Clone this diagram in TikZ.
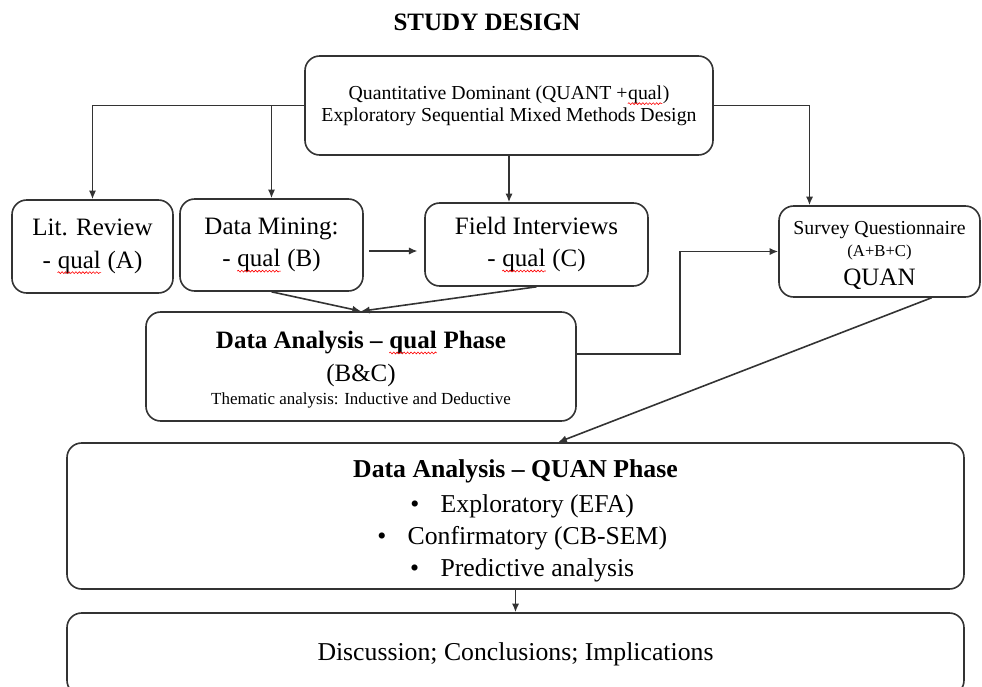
\documentclass[tikz,border=0pt]{standalone}
\usepackage{fontspec}
\setmainfont{Liberation Serif}
\usepackage{tikz}
\usetikzlibrary{arrows.meta,decorations.pathmorphing}
\newcommand{\spellerr}[1]{\tikz[baseline=(w.base)]{\node[inner sep=0pt,draw=none,fill=none,rectangle,minimum size=0pt] (w) {#1};
    \draw[red,line width=0.45pt,rounded corners=0pt,decorate,decoration={snake,amplitude=0.7pt,segment length=2.6pt}] ([yshift=-3.2pt]w.base west) -- ([yshift=-3.2pt]w.base east);}}
\newcommand{\bigtxt}{\fontsize{18.75}{24.5}\selectfont}
\newcommand{\hugetxt}{\fontsize{19.3}{24}\selectfont}
\newcommand{\midtxt}{\fontsize{14.85}{16.3}\selectfont}
\newcommand{\smalltxt}{\fontsize{12.7}{15}\selectfont}

\begin{document}
\begin{tikzpicture}[x=0.75pt,y=-0.75pt,
    box/.style={draw=black!80,line width=1.2pt,rounded corners=11pt,fill=white,align=center,inner sep=0pt}]
    \useasboundingbox (0,0) rectangle (982,686);
    \node[font=\bigtxt\bfseries] (0) at (487,22) {STUDY DESIGN};
    \node[box,font=\midtxt,minimum width=306pt,minimum height=74.25pt] (1) at (509,105.5) {Quantitative Dominant (QUANT +\spellerr{qual})\\Exploratory Sequential Mixed Methods Design};
    \node[box,font=\bigtxt,minimum width=120.75pt,minimum height=69.75pt] (2) at (92.5,246.5) {Lit. Review\\- \spellerr{qual} (A)};
    \node[box,font=\bigtxt,minimum width=137.25pt,minimum height=69pt] (3) at (271.5,245) {Data Mining:\\- \spellerr{qual} (B)};
    \node[box,font=\bigtxt,minimum width=167.25pt,minimum height=62.25pt] (4) at (536.5,244.5) {Field Interviews\\- \spellerr{qual} (C)};
    \node[box,font=\midtxt,minimum width=150.75pt,minimum height=68.25pt] (5) at (879.5,251.5) {\rule{0pt}{16pt}Survey Questionnaire\\{\fontsize{12.5}{14}\selectfont (A+B+C)}\\[6pt]{\bigtxt QUAN}};
    \node[box,font=\bigtxt,minimum width=322.5pt,minimum height=81.75pt] (6) at (361,366.5) {\rule{0pt}{18pt}{\bfseries Data Analysis -- \spellerr{qual} Phase}\\(B\&C)\\[-7pt]{\smalltxt Thematic analysis: Inductive and Deductive}};
    \node[box,font=\hugetxt,minimum width=672.75pt,minimum height=109.5pt] (7) at (515.5,516) {\rule{0pt}{21pt}{\bfseries Data Analysis -- QUAN Phase}\\[2pt]
        \hspace*{10pt}\textbullet\hspace{16pt}Exploratory (EFA)\\
        \hspace*{10pt}\textbullet\hspace{16pt}Confirmatory (CB-SEM)\\
        \hspace*{10pt}\textbullet\hspace{16pt}Predictive analysis};
    \node[box,font=\hugetxt,minimum width=672.75pt,minimum height=61.5pt] (8) at (515.5,654) {Discussion; Conclusions; Implications};

    \path[black!80,line width=1.2pt,-{Latex[length=6.5pt,width=5.5pt]}]
    (1.west) edge [to path={-| (\tikztotarget)}] (2)
    (1.west -| 3.north) edge (3)
    (1.south) edge (1.south |- 4.north)
    (1.east) edge [to path={-| ([xshift=-52.5pt]\tikztotarget.north)}] (5)
    ([yshift=-4.5pt]3.east) edge [shorten <=4pt,shorten >=5pt] ([yshift=-4.5pt]3.east -| 4.west)
    (3.south) edge (6.north)
    (4.south) edge (6.north)
    ([yshift=9.4pt]6.east) edge [to path={-- ++(103,0) |- (\tikztotarget)}] (5)
    ([xshift=39pt]5.south) edge ([xshift=32pt]7.north)
    (7) edge (8);
\end{tikzpicture}
\end{document}
